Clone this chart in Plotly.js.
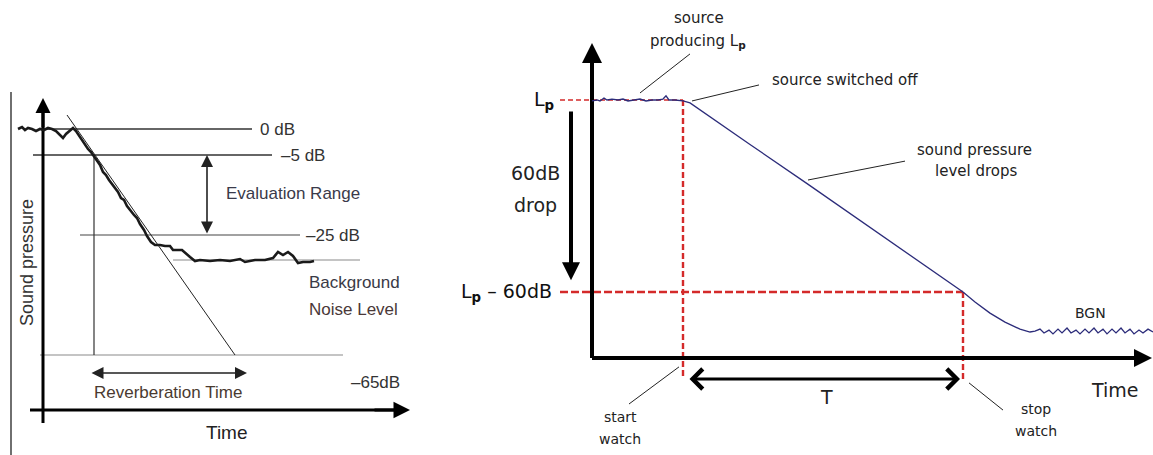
<!DOCTYPE html>
<html>
<head>
<meta charset="utf-8">
<script src="https://cdn.plot.ly/plotly-3.0.1.min.js"></script>
<style>html,body{margin:0;padding:0;background:#fff;}#chart{width:1153px;height:455px;}</style>
</head>
<body>
<div id="chart"></div>
<script>
// ---------- LEFT PANEL (time units, level units; 0 dB reference = 0) ----------
const leftDecayTime  = [-25,-21,-18,-15,-11,-7,-3,1,5,9,13,17,20,23,27,30,33,37,41,45,48,51,54,57,60,63,66,69,72,75,78,81,84,87,91,94,97,101,104,108,112,117,122,127,130,135,139,147,152,157,167,177,187,197,202,212,222,230,235,240,245,250,255,260,267,271];
const leftDecayLevel = [0,2,-1,1,0,-2,0,-1,1,0,-2,-6,-9,-5,-1,1,-2,-8,-14,-20,-23,-27,-32,-36,-43,-46,-51,-55,-60,-63,-69,-71,-77,-81,-86,-89,-95,-101,-107,-113,-116,-116,-117,-117,-121,-121,-121,-128,-132,-131,-132,-131,-132,-130,-133,-131,-131,-129,-123,-126,-123,-127,-134,-133,-133,-132];
const leftFitTime  = [24, 192];
const leftFitLevel = [14, -226];
const leftRefLabels = ["0 dB", "–5 dB", "–25 dB", "–65dB"];
const leftRefLevels = [0, -26, -106, -226];
const leftNoiseLevel = -131;

// ---------- RIGHT PANEL (time units, level in dB re Lp) ----------
const rightTime  = [0,5,8,12,15,20,26,31,36,43,48,54,60,66,71,74,77,83,91,98,108,158,214,258,308,358,371,383,398,413,428,438,443,448,452,457,461,466,470,475,479,484,488,493,497,502,506,511,515,520,524,529,533,538,542,547,551,556,561];
const rightLevel = [-0.3,0,-0.3,0.6,0,0.3,0,0.3,-0.3,0,0.3,-0.3,0,0,0.3,1.3,0,0,-0.3,-0.9,-3.1,-13.9,-25.9,-35.5,-46.3,-57.2,-60,-63.1,-66.6,-69.4,-71.6,-72.5,-72.2,-71.6,-72.8,-71.9,-73.1,-71.6,-72.8,-71.25,-72.8,-71.9,-73.1,-71.6,-72.8,-71.25,-72.8,-71.6,-73.1,-71.6,-72.8,-71.25,-72.8,-71.6,-73.1,-71.9,-72.8,-71.6,-72.5];
const sourceOffTime = 91;
const stopWatchTime = 371;
const dropDB = -60;

// ---------- layout helpers ----------
const LF = "Liberation Sans, Arial, sans-serif";
const RF = "DejaVu Sans, Verdana, sans-serif";
const L_AX = -281, L_TIP = 31;    // left axes
const R_AX = -80.6;               // right x-axis level
const T_ARROW = -87.2;

const traces = [
  {x: leftDecayTime, y: leftDecayLevel, xaxis:'x', yaxis:'y', mode:'lines', line:{color:'#1a1a1a', width:2.6, shape:'linear'}},
  {x: leftFitTime, y: leftFitLevel, xaxis:'x', yaxis:'y', mode:'lines', line:{color:'#222', width:1}},
  {x: rightTime, y: rightLevel, xaxis:'x2', yaxis:'y2', mode:'lines', line:{color:'#2c2c7a', width:1.3}}
];

function seg(xr, yr, x0, y0, x1, y1, color, width, dash) {
  return {type:'line', xref:xr, yref:yr, x0:x0, y0:y0, x1:x1, y1:y1, line:{color:color, width:width, dash:dash||'solid'}, layer:'below'};
}

const shapes = [
  // left panel
  seg('x','y', -32, 37, -32, -330, '#333', 1.4),
  seg('x','y', 0, leftRefLevels[0], 209, leftRefLevels[0], '#333', 1.5),
  seg('x','y', -10, leftRefLevels[1], 229, leftRefLevels[1], '#333', 1.5),
  seg('x','y', 37, leftRefLevels[2], 257, leftRefLevels[2], '#444', 1.2),
  seg('x','y', 130, leftNoiseLevel, 317, leftNoiseLevel, '#c4c4c4', 2),
  seg('x','y', -3, leftRefLevels[3], 300, leftRefLevels[3], '#c4c4c4', 2),
  seg('x','y', 51, leftRefLevels[1], 51, leftRefLevels[3], '#333', 1.2),
  seg('x','y', 0, -294, 0, 20, '#000', 3),
  seg('x','y', -13, L_AX, 355, L_AX, '#000', 3),
  // right panel
  seg('x2','y2', -32, 0, sourceOffTime, 0, '#d42a2a', 1.3, '5px,3px'),
  seg('x2','y2', -32, dropDB, stopWatchTime, dropDB, '#d42a2a', 2.6, '8px,3px'),
  seg('x2','y2', sourceOffTime, 0, sourceOffTime, T_ARROW, '#d42a2a', 2.4, '6px,3px'),
  seg('x2','y2', stopWatchTime, dropDB, stopWatchTime, T_ARROW, '#d42a2a', 2.4, '6px,3px'),
  seg('x2','y2', 0, R_AX, 0, 14, '#000', 4),
  seg('x2','y2', 0, R_AX, 548, R_AX, '#000', 4),
  // leader lines
  seg('x2','y2', 98, 14.4, 48, 2.2, '#222', 1),
  seg('x2','y2', 167, 4.7, 100, -0.3, '#222', 1),
  seg('x2','y2', 313, -19.1, 216, -25, '#222', 1),
  seg('x2','y2', 37, -95, 87, -83.4, '#222', 1),
  seg('x2','y2', 377, -88.4, 411, -96.9, '#222', 1)
];

function arrow(xr, yr, x, y, ax, ay, head, width, size, side, color) {
  return {xref:xr, yref:yr, axref:xr, ayref:yr, x:x, y:y, ax:ax, ay:ay, text:'', showarrow:true,
          arrowhead:head, arrowwidth:width, arrowsize:size, arrowside:side||'end', arrowcolor:color||'#000'};
}
function txt(xr, yr, x, y, text, size, font, color, xanchor, extra) {
  return Object.assign({xref:xr, yref:yr, x:x, y:y, text:text, showarrow:false,
          font:{family:font, size:size, color:color}, xanchor:xanchor||'center', yanchor:'middle'}, extra||{});
}

const annotations = [
  // left panel arrows
  arrow('x','y', 0, L_TIP, 0, 0, 2, 3, 1),
  arrow('x','y', 367, L_AX, 330, L_AX, 2, 3, 1.1),
  arrow('x','y', 164, leftRefLevels[1], 164, leftRefLevels[2], 2, 1.6, 1.5, 'end+start', '#222'),
  arrow('x','y', 204, -244, 47, -244, 2, 1.6, 1.5, 'end+start', '#222'),
  // left panel text
  txt('x','y', 215, leftRefLevels[0], leftRefLabels[0], 17, LF, '#333', 'left'),
  txt('x','y', 236, leftRefLevels[1], leftRefLabels[1], 17, LF, '#333', 'left'),
  txt('x','y', 261, leftRefLevels[2], leftRefLabels[2], 17, LF, '#333', 'left'),
  txt('x','y', 306, -253, leftRefLabels[3], 17, LF, '#333', 'left'),
  txt('x','y', 181, -64, 'Evaluation Range', 17, LF, '#3a3a4a', 'left'),
  txt('x','y', 264, -153, 'Background', 17, LF, '#3a3a46', 'left'),
  txt('x','y', 264, -180, 'Noise Level', 17, LF, '#4a3838', 'left'),
  txt('x','y', 125, -263, 'Reverberation Time', 17, LF, '#4a3a30'),
  txt('x','y', 184, -303, 'Time', 19, LF, '#222'),
  txt('x','y', -16, -134, 'Sound pressure', 18, LF, '#333', 'center', {textangle:-90}),
  // right panel arrows
  arrow('x2','y2', 0, 17.8, 0, 0, 2, 4, 1),
  arrow('x2','y2', 560, R_AX, 500, R_AX, 2, 4, 0.9),
  arrow('x2','y2', -21, -56.3, -21, -3.1, 2, 4, 0.9),
  arrow('x2','y2', 368, T_ARROW, 96, T_ARROW, 4, 3, 1.3, 'end+start'),
  // right panel text
  txt('x2','y2', -36, 0, 'L<sub><b>p</b></sub>', 19, RF, '#111', 'right'),
  txt('x2','y2', -38, dropDB, 'L<sub><b>p</b></sub> – 60dB', 19, RF, '#111', 'right'),
  txt('x2','y2', -57, -22.8, '60dB', 19, RF, '#222'),
  txt('x2','y2', -57, -32.8, 'drop', 19, RF, '#222'),
  txt('x2','y2', 107, 25.6, 'source', 15, RF, '#222'),
  txt('x2','y2', 106, 18.4, 'producing L<sub><b>p</b></sub>', 15, RF, '#222'),
  txt('x2','y2', 178, 6.25, 'source switched off', 15, RF, '#222', 'left'),
  txt('x2','y2', 382, -15.6, 'sound pressure', 15, RF, '#222'),
  txt('x2','y2', 384, -22.2, 'level drops', 15, RF, '#222'),
  txt('x2','y2', 498, -66.6, 'BGN', 14, RF, '#222'),
  txt('x2','y2', 523, -90.6, 'Time', 19, RF, '#222'),
  txt('x2','y2', 234, -92.8, 'T', 19, RF, '#222'),
  txt('x2','y2', 28, -99.1, 'start', 14, RF, '#222'),
  txt('x2','y2', 28, -105.9, 'watch', 14, RF, '#222'),
  txt('x2','y2', 444, -96.6, 'stop', 14, RF, '#222'),
  txt('x2','y2', 444, -103.4, 'watch', 14, RF, '#222')
];

const hidden = {visible:false, fixedrange:true};
const layout = {
  width:1153, height:455, margin:{l:0, r:0, t:0, b:0, pad:0},
  paper_bgcolor:'#fff', plot_bgcolor:'rgba(0,0,0,0)', showlegend:false, hovermode:false,
  xaxis:  Object.assign({domain:[0, 420/1153], range:[-43, 377]}, hidden),
  yaxis:  Object.assign({domain:[0, 1], range:[-326, 129]}, hidden),
  xaxis2: Object.assign({domain:[420/1153, 1], range:[-172, 561], anchor:'y2'}, hidden),
  yaxis2: Object.assign({domain:[0, 1], range:[-110.9375, 31.25], anchor:'x2'}, hidden),
  shapes: shapes, annotations: annotations
};
Plotly.newPlot('chart', traces, layout, {staticPlot:true, displayModeBar:false});
</script>
</body>
</html>
